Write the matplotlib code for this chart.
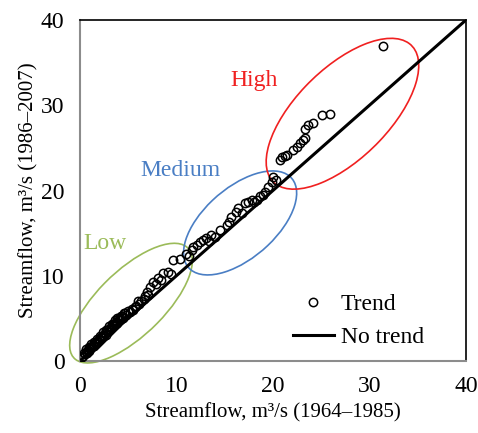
import matplotlib.pyplot as plt
from matplotlib.patches import Ellipse

# streamflow pairs (m3/s)
x_low = [0.2, 0.3, 0.4, 0.5, 0.6, 0.7, 0.8, 0.9, 1.0, 1.1, 1.2, 1.3, 1.4, 1.5, 1.6, 1.7,
         1.8, 1.9, 2.0, 2.1, 2.2, 2.3, 2.4, 2.5, 2.6, 2.7, 2.8, 2.9, 3.0, 3.1, 3.2,
         3.3, 3.4, 3.5, 3.6, 3.7, 3.8, 3.9, 4.0, 4.1, 4.2, 4.4, 4.5, 4.7, 4.8, 5.0,
         5.2, 5.4, 5.5, 5.7, 5.8, 6.0, 6.1, 6.3, 6.6, 6.8, 7.0, 7.1, 7.3, 7.6, 7.9,
         8.1, 8.4, 8.6, 9.1, 9.4, 9.7, 10.4,
         0.6, 0.9, 1.2, 1.5, 1.8, 2.1, 2.4, 2.7, 3.0, 3.3, 3.6, 3.9, 4.3, 4.6]
y_low = [0.5, 0.6, 0.9, 0.8, 1.1, 1.0, 1.3, 1.2, 1.5, 1.4, 1.7, 1.6, 1.9, 1.8, 2.1, 2.0,
         2.3, 2.2, 2.6, 2.5, 2.8, 2.7, 3.0, 2.9, 3.3, 3.1, 3.6, 3.4, 3.8, 3.6, 4.0,
         3.9, 4.3, 4.1, 4.4, 4.3, 4.6, 4.5, 4.9, 4.8, 5.0, 5.3, 5.1, 5.6, 5.4, 5.9,
         5.8, 6.1, 6.0, 6.4, 6.5, 7.0, 6.7, 7.1, 7.3, 7.6, 8.1, 7.8, 8.7, 9.3, 9.0,
         9.7, 9.5, 10.3, 10.5, 10.2, 11.8, 12.0,
         1.4, 1.6, 2.0, 2.3, 2.6, 3.0, 3.4, 3.7, 4.1, 4.4, 4.8, 5.0, 5.3, 5.7]
x_med = [11.0, 11.3, 11.6, 11.7, 12.1, 12.4, 12.8, 13.1, 13.4, 13.6, 14.0, 14.5,
         15.2, 15.5, 15.7, 16.2, 16.4, 16.8, 17.1, 17.4, 17.8, 18.0, 18.3, 18.7,
         19.0, 19.2, 19.5, 19.9, 20.0]
y_med = [12.5, 12.3, 13.0, 13.4, 13.6, 14.0, 14.2, 14.4, 14.1, 14.8, 14.6, 15.4,
         15.9, 16.3, 16.9, 17.5, 17.9, 17.4, 18.5, 18.7, 18.9, 18.6, 18.9, 19.3,
         19.5, 19.8, 20.4, 21.0, 21.6]
x_high = [20.3, 20.7, 20.9, 21.2, 21.5, 22.1, 22.5, 22.8, 23.1, 23.3, 23.3, 23.6,
          24.2, 25.1, 25.9, 31.4]
y_high = [21.2, 23.6, 23.9, 24.0, 24.2, 24.8, 25.1, 25.6, 25.9, 26.1, 27.2, 27.7,
          27.9, 28.8, 29.0, 36.9]

plt.rcParams['font.family'] = ['Liberation Serif', 'DejaVu Serif']

fig = plt.figure(figsize=(4.78, 4.33), dpi=100)
ax = fig.add_axes([0.167, 0.166, 0.808, 0.788])

ax.plot(x_low + x_med + x_high, y_low + y_med + y_high, 'o', mfc='none', mec='black',
        ms=6, mew=1.1, label='Trend', zorder=3)
ax.plot([0, 40], [0, 40], color='black', lw=2.2, label='No trend', zorder=2)

# groups
ax.add_patch(Ellipse((5.3, 6.8), 17.5, 7.2, angle=49, fill=False, ec='#9BBB59',
                     lw=1.2, clip_on=False))
ax.add_patch(Ellipse((16.6, 16.2), 15.0, 7.8, angle=47, fill=False, ec='#4A7EC4', lw=1.2))
ax.add_patch(Ellipse((27.2, 29.0), 21.5, 10.0, angle=50, fill=False, ec='#F02020', lw=1.2))
ax.text(2.6, 13.8, 'Low', color='#9BBB59', fontsize=17, ha='center', va='center')
ax.text(10.4, 22.4, 'Medium', color='#4A7EC4', fontsize=17, ha='center', va='center')
ax.text(18.0, 32.9, 'High', color='#F02020', fontsize=17, ha='center', va='center')

ax.set_xlim(0, 40)
ax.set_ylim(0, 40)
ax.set_xticks([0, 10, 20, 30, 40])
ax.set_yticks([0, 10, 20, 30, 40])
ax.tick_params(length=0, labelsize=17, pad=11)
for s in ['left', 'bottom']:
    ax.spines[s].set_color('#8c8c8c')
    ax.spines[s].set_linewidth(1.5)
for s in ['top', 'right']:
    ax.spines[s].set_color('black')
    ax.spines[s].set_linewidth(1.2)

ax.set_xlabel('Streamflow, m³/s (1964–1985)', fontsize=15, labelpad=4)
ax.set_ylabel('Streamflow, m³/s (1986–2007)', fontsize=15, labelpad=2)
ax.legend(loc='lower right', bbox_to_anchor=(0.915, 0.01), borderaxespad=0,
          frameon=False, fontsize=17, handlelength=1.7,
          handletextpad=0.3, labelspacing=0.5)

fig.savefig('out.png')
